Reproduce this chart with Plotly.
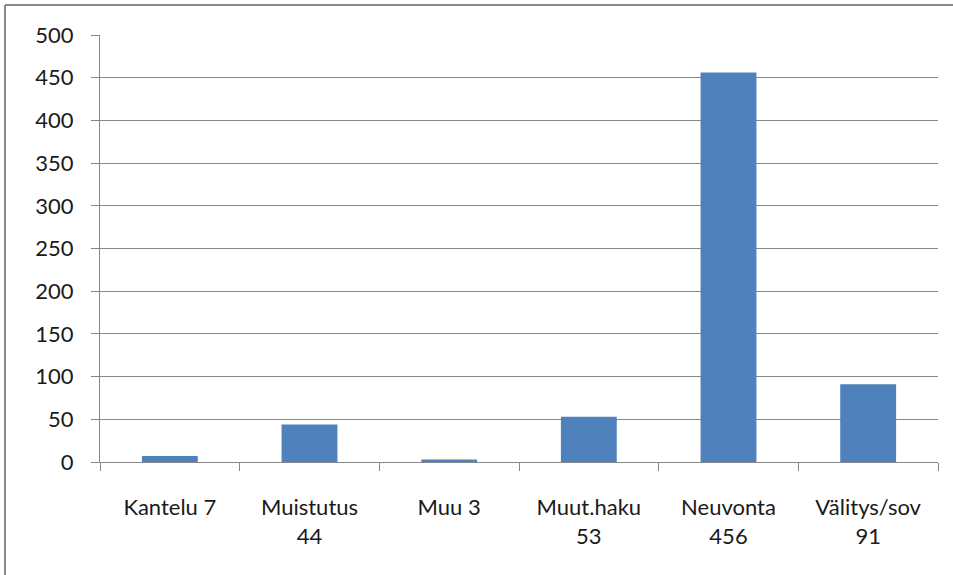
import plotly.graph_objects as go

# Category names, counts and the axis labels built from them
categories = ["Kantelu", "Muistutus", "Muu", "Muut.haku", "Neuvonta", "Välitys/sov"]
counts = [7, 44, 3, 53, 456, 91]
# Short names stay on one line, longer ones put the count underneath
single_line = {"Kantelu", "Muu"}
tick_labels = [
    f"{c} {n}" if c in single_line else f"{c}<br>{n}"
    for c, n in zip(categories, counts)
]
y_ticks = list(range(0, 501, 50))

W, H = 953, 575
L, R, T, B = 100, 15, 35, 113
pw, ph = W - L - R, H - T - B

fig = go.Figure(
    go.Bar(
        x=categories,
        y=counts,
        marker=dict(color="#4F81BD", line=dict(width=0)),
        hoverinfo="x+y",
    )
)

font = dict(family="Lato, 'Liberation Sans', sans-serif", size=22, color="#1a1a1a")
grey = "#878787"

fig.update_layout(
    width=W,
    height=H,
    margin=dict(l=L, r=R, t=T, b=B),
    paper_bgcolor="white",
    plot_bgcolor="white",
    bargap=0.6,
    showlegend=False,
    font=font,
    xaxis=dict(
        tickmode="array",
        tickvals=categories,
        ticktext=tick_labels,
        tickson="boundaries",
        ticks="outside",
        ticklen=8,
        tickcolor=grey,
        showline=True,
        linecolor=grey,
        linewidth=1,
        showgrid=False,
        ticklabelstandoff=26,
        tickangle=0,
    ),
    yaxis=dict(
        range=[0, 500],
        tickmode="array",
        tickvals=y_ticks,
        ticks="outside",
        ticklen=8,
        tickcolor=grey,
        showline=True,
        linecolor=grey,
        linewidth=1,
        showgrid=True,
        gridcolor=grey,
        gridwidth=1,
        zeroline=False,
        ticklabelstandoff=13,
    ),
    shapes=[
        # outer chart frame: top and left edges
        dict(type="line", xref="paper", yref="paper",
             x0=(5 - L) / pw, x1=(W + 5 - L) / pw,
             y0=1 + (T - 5) / ph, y1=1 + (T - 5) / ph,
             line=dict(color="#8a8a8a", width=2)),
        dict(type="line", xref="paper", yref="paper",
             x0=(5 - L) / pw, x1=(5 - L) / pw,
             y0=1 + (T - 5) / ph, y1=-(B + 5) / ph,
             line=dict(color="#8a8a8a", width=2)),
    ],
)

fig.write_html("out.html")
